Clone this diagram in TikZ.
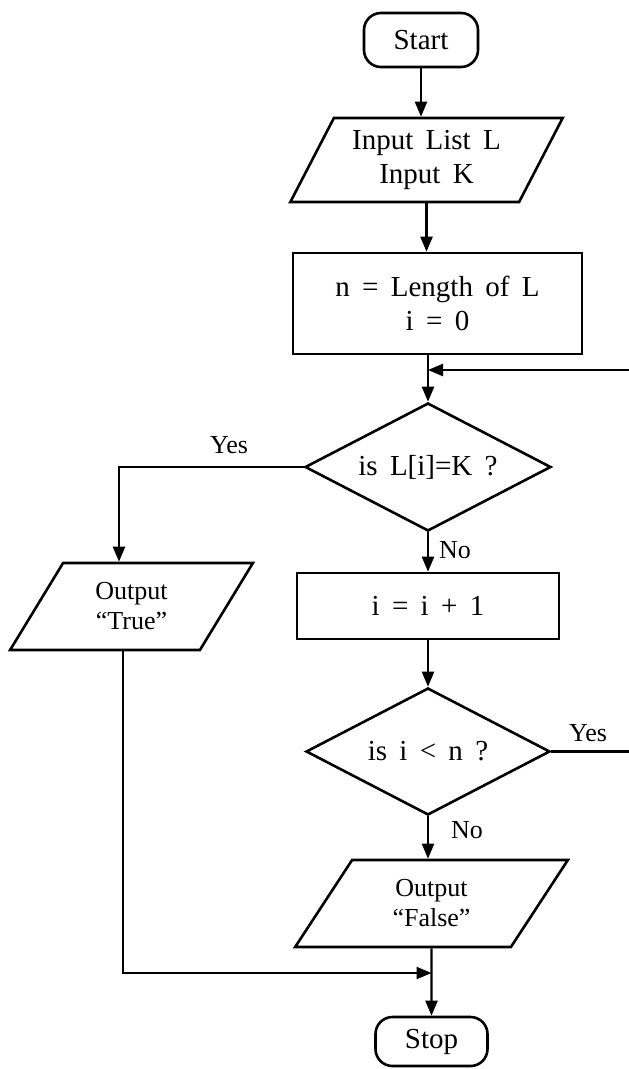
\documentclass[tikz,border=0pt]{standalone}
\usepackage{fontspec}
\setmainfont{Liberation Serif}[WordSpace=1.7]
\usetikzlibrary{shapes.geometric,arrows.meta}
\begin{document}
\begin{tikzpicture}[x=1pt,y=-1pt,
  every node/.style={font=\fontsize{29}{34}\selectfont},
  small/.style={font=\fontsize{26}{30}\selectfont},
  box/.style={draw,line width=2.6pt,inner sep=0pt,align=center},
  term/.style={box,rounded corners=17pt},
  proc/.style={box,rectangle},
  io/.style={box,trapezium,trapezium left angle=59.5,trapezium right angle=120.5,trapezium stretches=true},
  dec/.style={box,diamond,aspect=2},
  arr/.style={line width=2.3pt,-{Triangle[length=15pt,width=12pt]}},
  lbl/.style={inner sep=0pt,small}
]
\useasboundingbox (0,0) rectangle (629,1069);
\clip (0,0) rectangle (629,1069);

\node[term,minimum width=114pt,minimum height=54pt] (start) at (421,40) {Start};
\node[io,minimum width=273pt,minimum height=84pt] (inp) at (426.5,160) {Input List L\\Input K};
\node[proc,minimum width=289pt,minimum height=101pt] (len) at (437.5,303.5) {n = Length of L\\i = 0};
\node[dec,minimum width=246pt,minimum height=128pt] (d1) at (428,467) {is L[i]=K ?};
\node[io,minimum width=243pt,minimum height=87pt,small] (tru) at (131.5,606.5) {Output\\“True”};
\node[proc,minimum width=262pt,minimum height=66pt] (inc) at (428,606) {i = i + 1};
\node[dec,minimum width=244pt,minimum height=127pt] (d2) at (428,751.5) {is i < n ?};
\node[io,minimum width=273pt,minimum height=87pt,small] (fal) at (431.5,903.5) {Output\\“False”};
\node[term,minimum width=112pt,minimum height=49pt] (stop) at (431.5,1041.5) {Stop};

\coordinate (loopin) at (428,370);
\coordinate (loopR) at (636,751.5);
\coordinate (join) at (431.5,973);

\draw[arr] (start.south) -- (start.south |- inp.north);
\draw[arr] (inp.south) -- (inp.south |- len.north);
\draw[arr] (d1.north |- len.south) -- (d1.north);
\draw[arr] (d2.east) -- (loopR) |- (loopin);
\draw[arr] (d1.west) -| ([xshift=-12.5pt]tru.north);
\draw[arr] (d1.south) -- (inc.north);
\draw[arr] (inc.south) -- (d2.north);
\draw[arr] (d2.south) -- (d2.south |- fal.north);
\draw[arr] (fal.south) -- (stop.north);
\draw[arr] ([xshift=-8.5pt]tru.south) |- (join);

\node[lbl] (yes1) at (229,445) {Yes};
\node[lbl] (no1) at (455,550) {No};
\node[lbl] (yes2) at (588,733) {Yes};
\node[lbl] (no2) at (467,830) {No};
\end{tikzpicture}
\end{document}
